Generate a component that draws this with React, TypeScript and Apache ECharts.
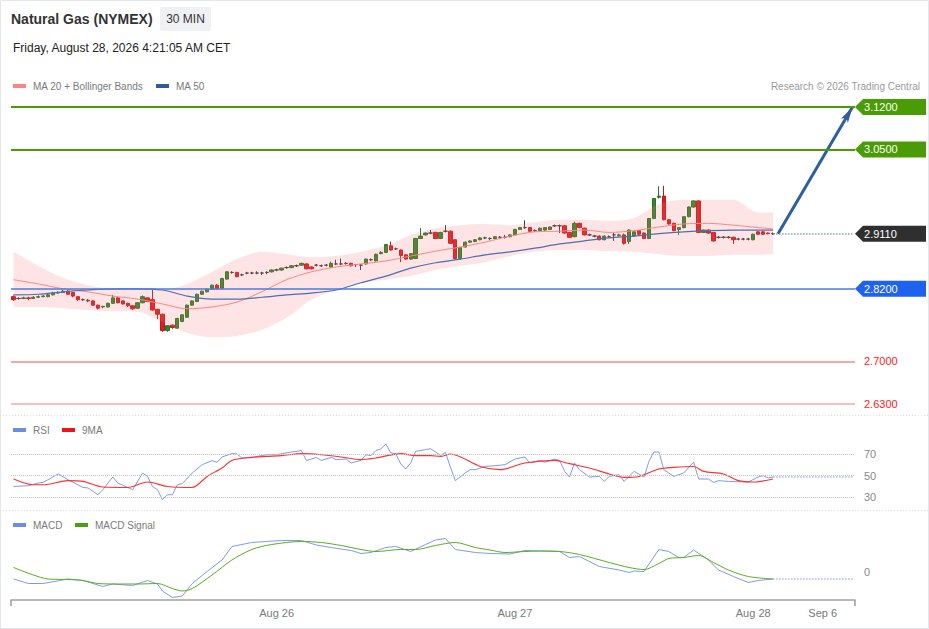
import React, { useEffect, useRef } from "react";
import * as echarts from "echarts";

const FONT = "'Liberation Sans', Arial, Helvetica, sans-serif";

// ---- x slots (30-minute bars, plus empty future slots) ----
const slotCount = 170;
const categories = Array.from({ length: slotCount }, (_, i) => String(i));
const xTickIndex = [53, 101, 149, 163];
const xTickLabels = ["Aug 26", "Aug 27", "Aug 28", "Sep 6"];

// ---- candles: [open, close, low, high] ----
const ohlc: number[][] = [
  [2.807, 2.802, 2.800, 2.809], [2.804, 2.804, 2.802, 2.806], [2.804, 2.805, 2.803, 2.807], [2.805, 2.804, 2.801, 2.807],
  [2.804, 2.806, 2.803, 2.808], [2.806, 2.807, 2.805, 2.809], [2.807, 2.808, 2.806, 2.810], [2.807, 2.810, 2.806, 2.812],
  [2.810, 2.813, 2.809, 2.815], [2.813, 2.814, 2.812, 2.816], [2.814, 2.816, 2.813, 2.818], [2.816, 2.811, 2.810, 2.818],
  [2.814, 2.808, 2.806, 2.815], [2.807, 2.802, 2.800, 2.808], [2.802, 2.802, 2.800, 2.804], [2.801, 2.800, 2.798, 2.803],
  [2.800, 2.793, 2.792, 2.801], [2.793, 2.788, 2.786, 2.794], [2.790, 2.791, 2.788, 2.792], [2.790, 2.796, 2.789, 2.797],
  [2.796, 2.805, 2.795, 2.810], [2.805, 2.797, 2.796, 2.806], [2.800, 2.795, 2.794, 2.801], [2.796, 2.792, 2.790, 2.797],
  [2.792, 2.787, 2.785, 2.793], [2.788, 2.797, 2.787, 2.798], [2.797, 2.807, 2.796, 2.809], [2.805, 2.799, 2.798, 2.806],
  [2.802, 2.785, 2.784, 2.818], [2.786, 2.778, 2.770, 2.787], [2.778, 2.751, 2.749, 2.779], [2.751, 2.759, 2.749, 2.760],
  [2.760, 2.756, 2.754, 2.761], [2.755, 2.771, 2.754, 2.772], [2.766, 2.777, 2.765, 2.778], [2.773, 2.793, 2.772, 2.794],
  [2.793, 2.800, 2.792, 2.801], [2.799, 2.811, 2.798, 2.812], [2.811, 2.816, 2.810, 2.817], [2.815, 2.819, 2.814, 2.821],
  [2.819, 2.826, 2.818, 2.827], [2.826, 2.820, 2.819, 2.828], [2.821, 2.837, 2.820, 2.838], [2.836, 2.848, 2.835, 2.849],
  [2.847, 2.847, 2.845, 2.849], [2.847, 2.840, 2.839, 2.848], [2.843, 2.843, 2.841, 2.845], [2.846, 2.846, 2.844, 2.848],
  [2.846, 2.846, 2.844, 2.848], [2.846, 2.846, 2.844, 2.849], [2.846, 2.846, 2.843, 2.848], [2.847, 2.847, 2.844, 2.849],
  [2.848, 2.851, 2.847, 2.852], [2.851, 2.851, 2.849, 2.853], [2.851, 2.854, 2.850, 2.855], [2.855, 2.855, 2.853, 2.857],
  [2.855, 2.858, 2.854, 2.859], [2.858, 2.858, 2.856, 2.860], [2.859, 2.862, 2.858, 2.863], [2.861, 2.853, 2.852, 2.862],
  [2.856, 2.853, 2.852, 2.857], [2.859, 2.859, 2.857, 2.861], [2.858, 2.858, 2.856, 2.860], [2.859, 2.859, 2.857, 2.861],
  [2.856, 2.862, 2.855, 2.865], [2.861, 2.861, 2.859, 2.868], [2.861, 2.861, 2.859, 2.870], [2.862, 2.862, 2.860, 2.864],
  [2.862, 2.858, 2.857, 2.863], [2.860, 2.860, 2.856, 2.861], [2.859, 2.859, 2.851, 2.861], [2.861, 2.869, 2.860, 2.870],
  [2.868, 2.868, 2.866, 2.870], [2.866, 2.877, 2.865, 2.878], [2.878, 2.880, 2.877, 2.882], [2.880, 2.893, 2.879, 2.894],
  [2.891, 2.884, 2.883, 2.898], [2.886, 2.886, 2.884, 2.888], [2.884, 2.875, 2.864, 2.885], [2.876, 2.869, 2.868, 2.877],
  [2.869, 2.878, 2.868, 2.879], [2.870, 2.903, 2.869, 2.904], [2.903, 2.907, 2.902, 2.920], [2.909, 2.912, 2.908, 2.913],
  [2.912, 2.912, 2.910, 2.917], [2.913, 2.903, 2.902, 2.914], [2.903, 2.913, 2.902, 2.914], [2.915, 2.915, 2.913, 2.925],
  [2.915, 2.895, 2.894, 2.916], [2.901, 2.870, 2.869, 2.902], [2.870, 2.888, 2.868, 2.889], [2.889, 2.897, 2.888, 2.898],
  [2.897, 2.899, 2.896, 2.900], [2.898, 2.901, 2.897, 2.902], [2.901, 2.904, 2.900, 2.905], [2.904, 2.904, 2.902, 2.906],
  [2.903, 2.903, 2.900, 2.905], [2.903, 2.906, 2.902, 2.907], [2.905, 2.905, 2.903, 2.907], [2.905, 2.905, 2.903, 2.909],
  [2.906, 2.909, 2.905, 2.910], [2.909, 2.918, 2.908, 2.919], [2.918, 2.921, 2.917, 2.922], [2.921, 2.921, 2.919, 2.933],
  [2.921, 2.915, 2.914, 2.922], [2.916, 2.916, 2.914, 2.918], [2.916, 2.920, 2.915, 2.921], [2.917, 2.921, 2.916, 2.922],
  [2.918, 2.922, 2.917, 2.923], [2.924, 2.924, 2.922, 2.926], [2.924, 2.924, 2.912, 2.926], [2.924, 2.912, 2.911, 2.925],
  [2.913, 2.905, 2.904, 2.914], [2.906, 2.928, 2.905, 2.931], [2.928, 2.921, 2.920, 2.929], [2.920, 2.909, 2.908, 2.921],
  [2.909, 2.909, 2.907, 2.911], [2.907, 2.907, 2.905, 2.909], [2.907, 2.901, 2.900, 2.908], [2.901, 2.907, 2.900, 2.908],
  [2.906, 2.906, 2.904, 2.908], [2.909, 2.909, 2.899, 2.912], [2.908, 2.909, 2.906, 2.911], [2.909, 2.895, 2.893, 2.911],
  [2.898, 2.917, 2.894, 2.918], [2.907, 2.914, 2.906, 2.915], [2.916, 2.910, 2.909, 2.917], [2.912, 2.903, 2.902, 2.913],
  [2.903, 2.936, 2.902, 2.937], [2.936, 2.969, 2.935, 2.970], [2.971, 2.973, 2.969, 2.989], [2.973, 2.934, 2.933, 2.990],
  [2.934, 2.927, 2.926, 2.935], [2.928, 2.916, 2.915, 2.929], [2.918, 2.921, 2.909, 2.922], [2.921, 2.939, 2.920, 2.940],
  [2.939, 2.955, 2.938, 2.956], [2.955, 2.965, 2.954, 2.966], [2.965, 2.913, 2.912, 2.966], [2.913, 2.917, 2.912, 2.918],
  [2.917, 2.912, 2.911, 2.918], [2.913, 2.899, 2.898, 2.914], [2.905, 2.905, 2.903, 2.907], [2.905, 2.905, 2.903, 2.907],
  [2.905, 2.905, 2.903, 2.907], [2.905, 2.901, 2.894, 2.906], [2.902, 2.902, 2.900, 2.904], [2.902, 2.902, 2.900, 2.904],
  [2.902, 2.902, 2.900, 2.904], [2.901, 2.910, 2.900, 2.911], [2.914, 2.910, 2.909, 2.915], [2.914, 2.910, 2.909, 2.915],
  [2.912, 2.911, 2.910, 2.913], [2.911, 2.911, 2.909, 2.913],
];

// ---- Bollinger bands / moving averages (sampled bars) ----
const bandIdx = [0, 5, 10, 15, 20, 25, 30, 35, 40, 45, 50, 55, 60, 65, 70, 75, 80, 85, 90, 95, 100, 105, 110, 115, 120, 125, 130, 135, 140, 145, 150, 153];
const bbUpper = [2.881, 2.858, 2.838, 2.826, 2.820, 2.820, 2.818, 2.828, 2.848, 2.869, 2.881, 2.877, 2.872, 2.874, 2.881, 2.891, 2.909, 2.920, 2.925, 2.927, 2.925, 2.930, 2.934, 2.934, 2.932, 2.937, 2.960, 2.967, 2.967, 2.967, 2.946, 2.946];
const bbLower = [2.790, 2.790, 2.788, 2.785, 2.783, 2.782, 2.765, 2.747, 2.740, 2.742, 2.752, 2.772, 2.802, 2.818, 2.830, 2.835, 2.841, 2.851, 2.858, 2.864, 2.874, 2.881, 2.884, 2.884, 2.882, 2.881, 2.877, 2.874, 2.874, 2.876, 2.876, 2.877];
const ma20 = [2.835, 2.828, 2.820, 2.815, 2.808, 2.803, 2.795, 2.787, 2.790, 2.798, 2.815, 2.835, 2.848, 2.856, 2.861, 2.866, 2.874, 2.882, 2.889, 2.897, 2.907, 2.914, 2.915, 2.917, 2.913, 2.916, 2.922, 2.927, 2.928, 2.925, 2.921, 2.919];
const ma50 = [2.810, 2.811, 2.815, 2.818, 2.820, 2.820, 2.818, 2.808, 2.803, 2.803, 2.806, 2.810, 2.813, 2.818, 2.830, 2.841, 2.854, 2.863, 2.869, 2.876, 2.881, 2.887, 2.894, 2.899, 2.904, 2.907, 2.911, 2.914, 2.916, 2.917, 2.917, 2.917];

// ---- key levels ----
const resistanceLevels = [3.12, 3.05];
const lastPrice = 2.911;
const pivotLevel = 2.82;
const supportLevels = [2.70, 2.63];
const targetIdx = [154, 169];
const targetVal = [2.911, 3.12];

// ---- RSI (14) and its 9-bar average ----
const rsi: number[][] = [
  [0, 40.0], [3, 40.7], [5, 43.2], [6, 43.8], [9, 51.6], [11, 46.3], [14, 39.1], [15, 38.6], [17, 32.3], [18, 37.0],
  [20, 48.8], [21, 43.2], [24, 37.0], [26, 52.5], [27, 49.3], [28, 40.0], [29, 37.0], [30, 27.7], [31, 32.3], [32, 32.3],
  [33, 41.6], [34, 42.6], [36, 52.5], [38, 60.2], [40, 64.0], [41, 62.4], [42, 67.4], [44, 70.5], [45, 70.2], [46, 66.5],
  [48, 67.0], [51, 69.5], [53, 69.5], [56, 72.0], [58, 73.3], [59, 64.0], [61, 67.0], [62, 64.2], [64, 67.0], [65, 64.9],
  [67, 65.5], [68, 61.8], [70, 64.2], [71, 69.5], [72, 68.6], [73, 73.3], [74, 74.8], [75, 79.5], [76, 71.1], [77, 70.5],
  [78, 60.9], [79, 56.2], [80, 61.8], [81, 72.6], [83, 74.2], [84, 75.1], [86, 68.9], [87, 71.7], [88, 58.0], [89, 45.4],
  [91, 52.5], [92, 55.6], [93, 55.6], [95, 58.6], [97, 59.3], [99, 60.2], [101, 65.5], [103, 67.4], [104, 61.8], [106, 64.0],
  [107, 62.4], [109, 65.5], [110, 64.2], [111, 54.0], [112, 48.8], [113, 61.8], [114, 55.6], [116, 48.8], [118, 49.3], [119, 44.7],
  [120, 49.3], [122, 50.9], [123, 44.7], [125, 54.0], [127, 48.8], [128, 63.3], [129, 72.0], [130, 72.0], [131, 55.6], [133, 49.3],
  [135, 52.5], [137, 62.7], [138, 46.9], [140, 46.9], [141, 43.8], [142, 45.4], [144, 44.7], [148, 44.1], [150, 48.8], [151, 50.0],
  [152, 47.9], [153, 48.8],
];
const rsiMa9: number[][] = [
  [0, 46.9], [4, 41.6], [6, 41.6], [11, 45.4], [14, 44.7], [18, 39.5], [23, 39.1], [27, 44.1], [31, 40.0], [36, 39.1],
  [39, 49.3], [42, 57.2], [44, 64.2], [48, 67.0], [51, 67.9], [54, 68.6], [58, 70.5], [62, 69.5], [66, 67.4], [70, 64.9],
  [73, 66.5], [78, 70.5], [81, 68.6], [84, 68.6], [86, 67.9], [88, 70.2], [94, 58.6], [98, 55.6], [103, 61.8], [109, 64.2],
  [112, 61.2], [116, 57.2], [120, 51.6], [123, 48.4], [126, 49.3], [130, 56.2], [133, 57.7], [137, 58.6], [139, 54.0], [143, 51.6],
  [146, 45.4], [149, 44.1], [153, 46.9],
];
const rsiLevels = [30, 50, 70];

// ---- MACD ----
const macd: number[][] = [
  [0, -0.0014], [3, -0.0023], [6, -0.0023], [11, -0.0014], [14, -0.0017], [18, -0.0029], [20, -0.0024], [24, -0.0027], [27, -0.0017], [29, -0.0024],
  [30, -0.0038], [32, -0.0051], [34, -0.0048], [36, -0.0023], [39, 0.0001], [42, 0.0024], [44, 0.0051], [48, 0.0059], [51, 0.0061], [54, 0.0063],
  [58, 0.0063], [61, 0.0054], [64, 0.0049], [68, 0.0043], [70, 0.0037], [72, 0.0039], [75, 0.0049], [77, 0.0051], [80, 0.0041], [83, 0.0055],
  [85, 0.0064], [87, 0.0067], [89, 0.0045], [93, 0.0039], [96, 0.0037], [100, 0.0036], [103, 0.0043], [106, 0.0042], [110, 0.0041], [112, 0.0029],
  [114, 0.0031], [118, 0.0011], [122, 0.0004], [124, -0.0001], [125, 0.0002], [127, 0.0001], [130, 0.0045], [132, 0.0041], [134, 0.0029], [135, 0.0029],
  [137, 0.0044], [140, 0.0024], [142, 0.0004], [145, -0.0009], [148, -0.0021], [150, -0.0017], [153, -0.0014],
];
const macdSignal: number[][] = [
  [0, 0.0009], [4, -0.0006], [7, -0.0014], [11, -0.0015], [14, -0.0017], [17, -0.0023], [21, -0.0024], [25, -0.0024], [29, -0.0023], [32, -0.0033],
  [34, -0.0038], [36, -0.0033], [40, -0.0006], [44, 0.0024], [48, 0.0045], [52, 0.0055], [58, 0.0061], [62, 0.0059], [66, 0.0053], [70, 0.0045],
  [73, 0.0041], [78, 0.0045], [81, 0.0045], [85, 0.0053], [89, 0.0059], [93, 0.0049], [96, 0.0044], [99, 0.0039], [103, 0.0041], [106, 0.0042],
  [110, 0.0041], [114, 0.0035], [120, 0.0019], [124, 0.0009], [127, 0.0005], [130, 0.0017], [132, 0.0027], [135, 0.0029], [138, 0.0033], [141, 0.0019],
  [144, 0.0004], [148, -0.0009], [153, -0.0014],
];

const pairs = (idx: number[], vals: number[]) => idx.map((x, k) => [x, vals[k]]);

function buildOption(): any {
  const lastIdx = ohlc.length - 1;
  const endIdx = slotCount - 1;
  const tagPath = "path://M0 8 L8 0 L71 0 L71 16 L8 16 Z";
  const tagColors = ["#4a9c06", "#4a9c06"];
  const supportColors = ["#f38a8a", "#f7aaaa"];
  const lastRsi = rsi[rsi.length - 1][1];
  const lastMacd = macd[macd.length - 1][1];

  const legendItem = (x: number, y: number, color: string, text: string) => [
    { type: "rect", shape: { x, y: y - 2, width: 13, height: 4 }, style: { fill: color }, silent: true },
    { type: "text", x: x + 20, y, style: { text, fill: "#7a7a7a", fontSize: 10, fontFamily: FONT, verticalAlign: "middle" }, silent: true },
  ];

  const graphic: any[] = [
    { type: "rect", shape: { x: 0.5, y: 0.5, width: 928, height: 628 }, style: { fill: "none", stroke: "#e3e6ea", lineWidth: 1 }, silent: true },
    { type: "text", x: 11, y: 19, style: { text: "Natural Gas (NYMEX)", fill: "#333", fontSize: 14, fontWeight: "bold", fontFamily: FONT, verticalAlign: "middle" }, silent: true },
    { type: "rect", shape: { x: 160, y: 7, width: 51, height: 24, r: 2 }, style: { fill: "#f0f1f3" }, silent: true },
    { type: "text", x: 185.5, y: 19, style: { text: "30 MIN", fill: "#333", fontSize: 12, fontFamily: FONT, align: "center", verticalAlign: "middle" }, silent: true },
    { type: "text", x: 13, y: 48, style: { text: "Friday, August 28, 2026 4:21:05 AM CET", fill: "#222", fontSize: 12, fontFamily: FONT, verticalAlign: "middle" }, silent: true },
    { type: "text", x: 920, y: 86, style: { text: "Research \u00A9 2026 Trading Central", fill: "#9a9a9a", fontSize: 10, fontFamily: FONT, align: "right", verticalAlign: "middle" }, silent: true },
    ...legendItem(13, 86, "#ff8282", "MA 20 + Bollinger Bands"),
    ...legendItem(156, 86, "#2f5c9c", "MA 50"),
    ...legendItem(13, 430, "#6a8ee8", "RSI"),
    ...legendItem(62, 430, "#f01414", "9MA"),
    ...legendItem(13, 525, "#6a8ee8", "MACD"),
    ...legendItem(75, 525, "#4aa010", "MACD Signal"),
    { type: "line", shape: { x1: 0, y1: 415.5, x2: 929, y2: 415.5 }, style: { stroke: "#dcdcdc", lineWidth: 1, lineDash: [1, 2] }, silent: true },
    { type: "line", shape: { x1: 0, y1: 510.5, x2: 929, y2: 510.5 }, style: { stroke: "#dcdcdc", lineWidth: 1, lineDash: [1, 2] }, silent: true },
    { type: "line", shape: { x1: 11, y1: 600, x2: 11, y2: 606 }, style: { stroke: "#9a9a9a", lineWidth: 1.5 }, silent: true },
    { type: "line", shape: { x1: 855, y1: 600, x2: 855, y2: 606 }, style: { stroke: "#9a9a9a", lineWidth: 1.5 }, silent: true },
  ];

  const hidden = { show: false };
  const xAxisBase = { type: "category", data: categories, boundaryGap: true };

  return {
    animation: false,
    textStyle: { fontFamily: FONT },
    graphic,
    grid: [
      { left: 11, width: 844, top: 101, height: 315 },
      { left: 11, width: 844, top: 438, height: 70 },
      { left: 11, width: 844, top: 530, height: 70 },
    ],
    xAxis: [
      { ...xAxisBase, gridIndex: 0, show: false },
      { ...xAxisBase, gridIndex: 1, show: false },
      {
        ...xAxisBase,
        gridIndex: 2,
        position: "bottom",
        axisLine: { show: true, onZero: false, lineStyle: { color: "#a3a3a3", width: 1.5 } },
        axisTick: hidden,
        splitLine: hidden,
        axisLabel: {
          interval: (index: number) => xTickIndex.includes(index),
          formatter: (_v: string, index: number) => {
            const k = xTickIndex.indexOf(index);
            return k >= 0 ? xTickLabels[k] : "";
          },
          color: "#7a7a7a",
          fontSize: 11,
          margin: 7,
        },
      },
    ],
    yAxis: [
      { type: "value", gridIndex: 0, min: 2.61, max: 3.13, show: false },
      {
        type: "value", gridIndex: 1, min: 20, max: 85, interval: 10, position: "right",
        axisLine: hidden, axisTick: hidden, splitLine: hidden,
        axisLabel: { formatter: (v: number) => (rsiLevels.includes(Math.round(v)) ? String(Math.round(v)) : ""), color: "#888", fontSize: 11, margin: 9 },
      },
      {
        type: "value", gridIndex: 2, min: -0.0056, max: 0.0084, interval: 0.0028, position: "right",
        axisLine: hidden, axisTick: hidden, splitLine: hidden,
        axisLabel: { formatter: (v: number) => (Math.abs(v) < 1e-7 ? "0" : ""), color: "#888", fontSize: 11, margin: 9 },
      },
    ],
    series: [
      {
        type: "line", xAxisIndex: 0, yAxisIndex: 0, stack: "bb", symbol: "none", smooth: 0.3, silent: true,
        data: pairs(bandIdx, bbLower), lineStyle: { width: 0, opacity: 0 },
      },
      {
        type: "line", xAxisIndex: 0, yAxisIndex: 0, stack: "bb", symbol: "none", smooth: 0.3, silent: true,
        data: pairs(bandIdx, bbUpper.map((u, k) => +(u - bbLower[k]).toFixed(4))),
        lineStyle: { width: 0, opacity: 0 }, areaStyle: { color: "rgba(250, 120, 120, 0.2)", opacity: 1 },
      },
      {
        type: "line", xAxisIndex: 0, yAxisIndex: 0, symbol: "none", smooth: 0.3, silent: true,
        data: pairs(bandIdx, ma20), lineStyle: { color: "#ff8585", width: 1 },
      },
      {
        type: "line", xAxisIndex: 0, yAxisIndex: 0, symbol: "none", smooth: 0.3, silent: true,
        data: pairs(bandIdx, ma50), lineStyle: { color: "#4d6fb2", width: 1.2 },
        markLine: {
          silent: true, symbol: ["none", "arrow"], symbolSize: [6, 16],
          label: { show: false },
          lineStyle: { color: "#2d5e9e", width: 3, type: "solid" },
          data: [[{ coord: [targetIdx[0], targetVal[0]] }, { coord: [targetIdx[1], targetVal[1]] }]],
        },
      },
      {
        type: "candlestick", xAxisIndex: 0, yAxisIndex: 0, data: ohlc, barWidth: 3.8, silent: true,
        itemStyle: {
          color: "#2b8a2b", color0: "#e01b1b", borderColor: "#267326", borderColor0: "#c01818",
          borderColorDoji: "#3a3a3a", borderWidth: 1,
        },
        markLine: {
          silent: true, symbol: "none",
          data: [
            ...resistanceLevels.map((v) => ({ yAxis: v, lineStyle: { color: "#4a9c06", width: 2, type: "solid" }, label: { show: false } })),
            { yAxis: pivotLevel, lineStyle: { color: "#4a7de2", width: 1.6, type: "solid" }, label: { show: false } },
            ...supportLevels.map((v, k) => ({
              yAxis: v,
              lineStyle: { color: supportColors[k], width: 1.5, type: "solid", opacity: 1 },
              label: { show: true, position: "end", distance: 9, formatter: v.toFixed(4), color: "#ff1a1a", fontSize: 11 },
            })),
            [
              { coord: [lastIdx, lastPrice], lineStyle: { color: "#8d9dbd", width: 1.5, type: "dotted" }, label: { show: false } },
              { coord: [endIdx, lastPrice] },
            ],
          ],
        },
        markPoint: {
          silent: true,
          symbol: tagPath,
          symbolSize: [71, 16],
          symbolKeepAspect: false,
          label: { show: true, position: "insideLeft", distance: 9, color: "#fff", fontSize: 11 },
          data: [
            ...resistanceLevels.map((v, k) => ({ coord: [endIdx, v], symbolOffset: [38, 0], itemStyle: { color: tagColors[k] }, label: { formatter: v.toFixed(4) } })),
            { coord: [endIdx, lastPrice], symbolOffset: [38, 0], itemStyle: { color: "#2f2f2f" }, label: { formatter: lastPrice.toFixed(4) } },
            { coord: [endIdx, pivotLevel], symbolOffset: [38, 0], itemStyle: { color: "#1f62f0" }, label: { formatter: pivotLevel.toFixed(4) } },
          ],
        },
      },
      {
        type: "line", xAxisIndex: 1, yAxisIndex: 1, symbol: "none", silent: true,
        data: rsi, lineStyle: { color: "#7f9be8", width: 1 },
        markLine: {
          silent: true, symbol: "none", label: { show: false },
          data: [[
            { coord: [lastIdx, lastRsi], lineStyle: { color: "#a9bbee", width: 1.5, type: "dotted" } },
            { coord: [endIdx, lastRsi] },
          ]],
        },
      },
      {
        type: "line", xAxisIndex: 1, yAxisIndex: 1, symbol: "none", smooth: 0.3, silent: true,
        data: rsiMa9, lineStyle: { color: "#ff3030", width: 1.1 },
        markLine: {
          silent: true, symbol: "none", label: { show: false },
          lineStyle: { color: "#c4c4c4", width: 1, type: "dotted" },
          data: rsiLevels.map((v) => ({ yAxis: v })),
        },
      },
      {
        type: "line", xAxisIndex: 2, yAxisIndex: 2, symbol: "none", silent: true,
        data: macd, lineStyle: { color: "#7f9be8", width: 1 },
        markLine: {
          silent: true, symbol: "none", label: { show: false },
          data: [[
            { coord: [lastIdx, lastMacd], lineStyle: { color: "#a9bbee", width: 1.5, type: "dotted" } },
            { coord: [endIdx, lastMacd] },
          ]],
        },
      },
      {
        type: "line", xAxisIndex: 2, yAxisIndex: 2, symbol: "none", smooth: 0.3, silent: true,
        data: macdSignal, lineStyle: { color: "#5aab1e", width: 1 },
      },
    ],
  };
}

export default function App() {
  const ref = useRef<HTMLDivElement>(null);
  useEffect(() => {
    document.body.style.margin = "0";
    const chart = echarts.init(ref.current as HTMLDivElement, null, { renderer: "svg" });
    chart.setOption(buildOption());
    return () => chart.dispose();
  }, []);
  return (
    <div
      ref={ref}
      style={{ position: "absolute", left: 0, top: 0, width: 929, height: 629, background: "#fff" }}
    />
  );
}
